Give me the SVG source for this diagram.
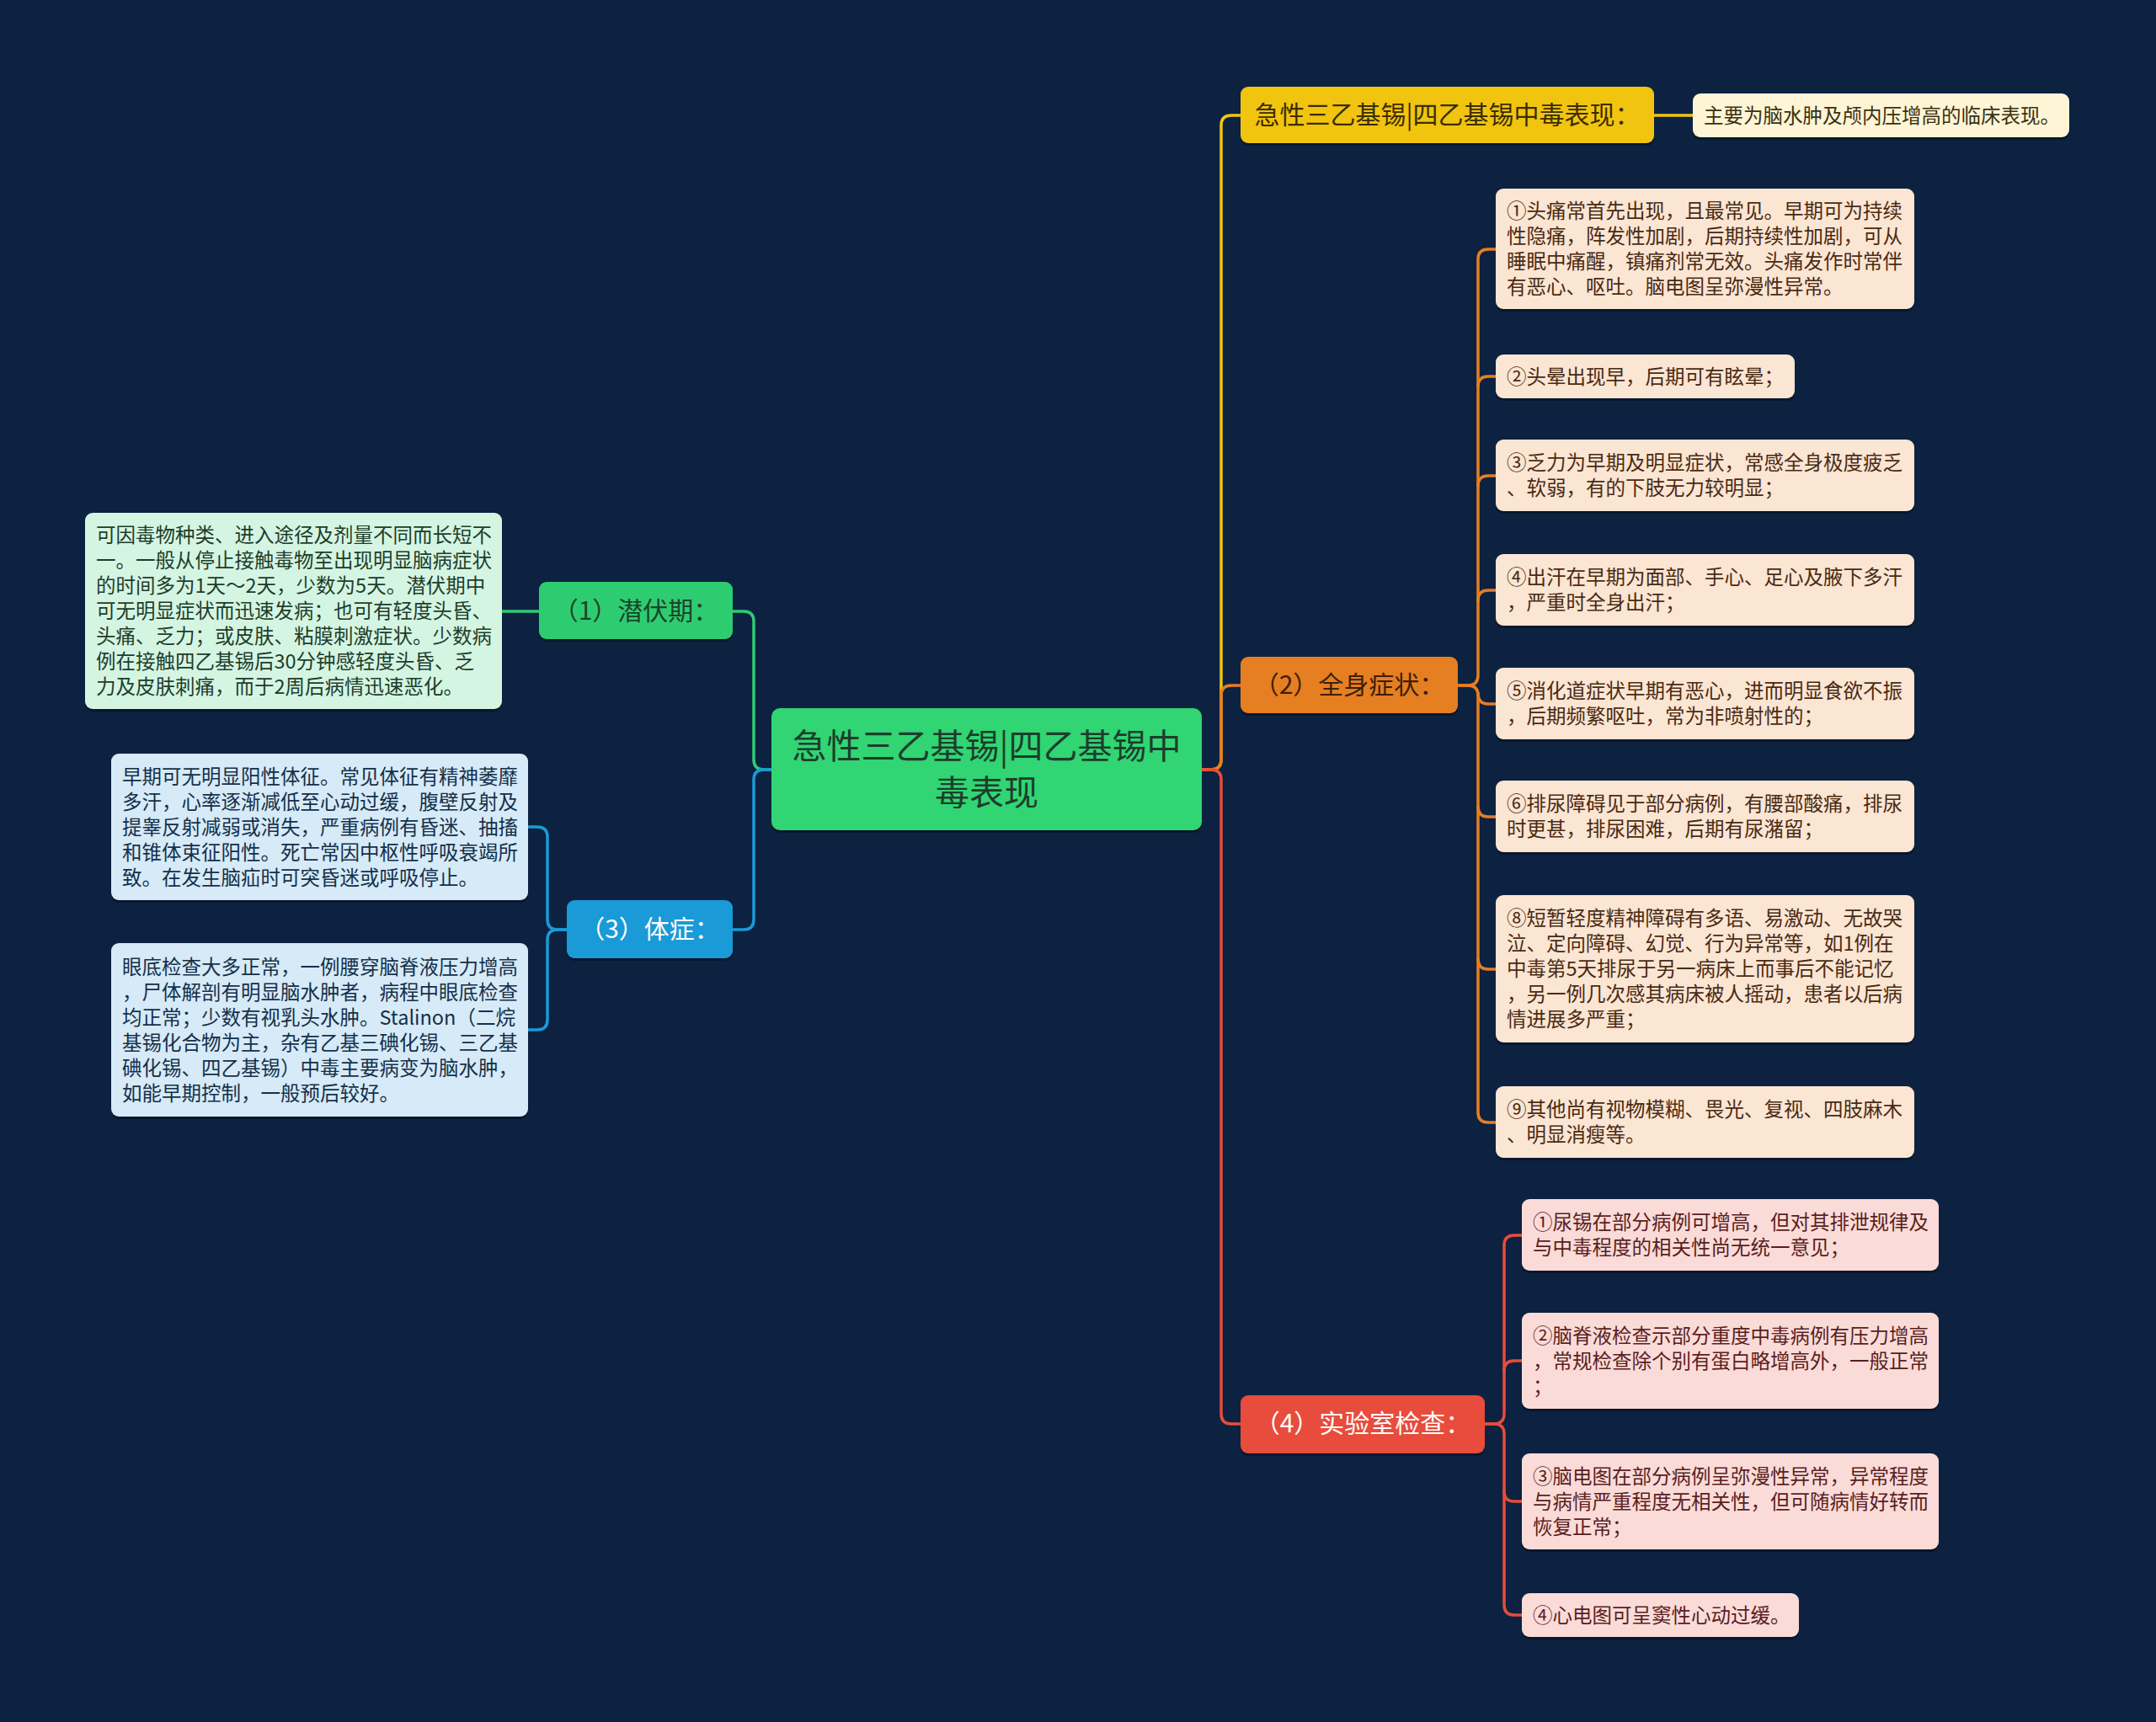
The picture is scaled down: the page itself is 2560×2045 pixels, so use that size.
<svg xmlns="http://www.w3.org/2000/svg" width="2560" height="2045" viewBox="0 0 2560 2045">
<style>
text{font-family:"Microsoft YaHei","Noto Sans CJK SC","Noto Sans",sans-serif;}
.leaf{font-size:23.5px;}
.br{font-size:30px;text-anchor:middle;}
.root{font-size:41px;text-anchor:middle;fill:#1d3d2c;}
.sh{fill:#000;opacity:0.3;}
.c{fill:none;stroke-width:3.5;stroke-linecap:round;}
</style>
<rect x="0" y="0" width="2560" height="2045" fill="#0c2240"/>
<g id="connectors">
<path class="c" stroke="#f1c40f" d="M1427 914 H1438 Q1450 914 1450 902 V149 Q1450 137 1462 137 H1473"/>
<path class="c" stroke="#f1c40f" d="M1964 137 H2010"/>
<path class="c" stroke="#e67e22" d="M1427 914 H1438 Q1450 914 1450 902 V826 Q1450 814 1462 814 H1473"/>
<path class="c" stroke="#e74c3c" d="M1427 914 H1438 Q1450 914 1450 926 V1679 Q1450 1691 1462 1691 H1473"/>
<path class="c" stroke="#2ecc71" d="M916 914 H907 Q895 914 895 902 V738 Q895 726 883 726 H870"/>
<path class="c" stroke="#2ecc71" d="M640 726 H596"/>
<path class="c" stroke="#1a9ad6" d="M916 914 H907 Q895 914 895 926 V1092 Q895 1104 883 1104 H870"/>
<path class="c" stroke="#1a9ad6" d="M673 1104 H662 Q650 1104 650 1092 V994 Q650 982 638 982 H627"/>
<path class="c" stroke="#1a9ad6" d="M673 1104 H662 Q650 1104 650 1116 V1211 Q650 1223 638 1223 H627"/>
<g stroke="#e67e22">
<path class="c" d="M1731 814 H1743 Q1755 814 1755 802 V308 Q1755 296 1767 296 H1776"/>
<path class="c" d="M1755 459 Q1755 447 1767 447 H1776"/>
<path class="c" d="M1755 577 Q1755 565 1767 565 H1776"/>
<path class="c" d="M1755 713 Q1755 701 1767 701 H1776"/>
<path class="c" d="M1755 823 Q1755 836 1767 836 H1776"/>
<path class="c" d="M1731 814 H1743 Q1755 814 1755 826 V1321 Q1755 1333 1767 1333 H1776"/>
<path class="c" d="M1755 958 Q1755 970 1767 970 H1776"/>
<path class="c" d="M1755 1139 Q1755 1151 1767 1151 H1776"/>
</g>
<g stroke="#e74c3c">
<path class="c" d="M1763 1691 H1774 Q1786 1691 1786 1679 V1479 Q1786 1467 1798 1467 H1807"/>
<path class="c" d="M1786 1628 Q1786 1616 1798 1616 H1807"/>
<path class="c" d="M1763 1691 H1774 Q1786 1691 1786 1703 V1906 Q1786 1918 1798 1918 H1807"/>
<path class="c" d="M1786 1771 Q1786 1783 1798 1783 H1807"/>
</g>
</g>
<g id="root">
<rect class="sh" x="916" y="844" width="511" height="145" rx="10"/>
<rect x="916" y="841" width="511" height="145" rx="10" fill="#31d573"/>
<text class="root"><tspan x="1171.5" y="901">急性三乙基锡|四乙基锡中</tspan><tspan x="1171.5" y="956">毒表现</tspan></text>
</g>
<g id="b1">
<rect class="sh" x="1473" y="106" width="491" height="67" rx="9"/>
<rect x="1473" y="103" width="491" height="67" rx="9" fill="#f1c40f"/>
<text class="br" x="1718.5" y="147" fill="#3b2d00">急性三乙基锡|四乙基锡中毒表现：</text>
</g>
<g id="b1-1">
<rect class="sh" x="2010" y="114" width="447" height="52" rx="9"/>
<rect x="2010" y="111" width="447" height="52" rx="9" fill="#fdf5d6"/>
<text class="leaf" x="2023" y="145.5" fill="#3b3010">主要为脑水肿及颅内压增高的临床表现。</text>
</g>
<g id="b2">
<rect class="sh" x="1473" y="783" width="258" height="67" rx="9"/>
<rect x="1473" y="780" width="258" height="67" rx="9" fill="#e67e22"/>
<text class="br" x="1602" y="824" fill="#3d1f05">（2）全身症状：</text>
</g>
<g fill="#4a2a12">
<g id="b2-1">
<rect class="sh" x="1776" y="227" width="497" height="143" rx="9"/>
<rect x="1776" y="224" width="497" height="143" rx="9" fill="#fbe5d3"/>
<text class="leaf" x="1789" y="259">①头痛常首先出现，且最常见。早期可为持续</text>
<text class="leaf" x="1789" y="289">性隐痛，阵发性加剧，后期持续性加剧，可从</text>
<text class="leaf" x="1789" y="319">睡眠中痛醒，镇痛剂常无效。头痛发作时常伴</text>
<text class="leaf" x="1789" y="349">有恶心、呕吐。脑电图呈弥漫性异常。</text>
</g>
<g id="b2-2">
<rect class="sh" x="1776" y="424" width="355" height="52" rx="9"/>
<rect x="1776" y="421" width="355" height="52" rx="9" fill="#fbe5d3"/>
<text class="leaf" x="1789" y="455.5">②头晕出现早，后期可有眩晕；</text>
</g>
<g id="b2-3">
<rect class="sh" x="1776" y="525" width="497" height="85" rx="9"/>
<rect x="1776" y="522" width="497" height="85" rx="9" fill="#fbe5d3"/>
<text class="leaf" x="1789" y="558">③乏力为早期及明显症状，常感全身极度疲乏</text>
<text class="leaf" x="1789" y="588">、软弱，有的下肢无力较明显；</text>
</g>
<g id="b2-4">
<rect class="sh" x="1776" y="661" width="497" height="85" rx="9"/>
<rect x="1776" y="658" width="497" height="85" rx="9" fill="#fbe5d3"/>
<text class="leaf" x="1789" y="694">④出汗在早期为面部、手心、足心及腋下多汗</text>
<text class="leaf" x="1789" y="724">，严重时全身出汗；</text>
</g>
<g id="b2-5">
<rect class="sh" x="1776" y="796" width="497" height="85" rx="9"/>
<rect x="1776" y="793" width="497" height="85" rx="9" fill="#fbe5d3"/>
<text class="leaf" x="1789" y="829">⑤消化道症状早期有恶心，进而明显食欲不振</text>
<text class="leaf" x="1789" y="859">，后期频繁呕吐，常为非喷射性的；</text>
</g>
<g id="b2-6">
<rect class="sh" x="1776" y="930" width="497" height="85" rx="9"/>
<rect x="1776" y="927" width="497" height="85" rx="9" fill="#fbe5d3"/>
<text class="leaf" x="1789" y="963">⑥排尿障碍见于部分病例，有腰部酸痛，排尿</text>
<text class="leaf" x="1789" y="993">时更甚，排尿困难，后期有尿潴留；</text>
</g>
<g id="b2-8">
<rect class="sh" x="1776" y="1066" width="497" height="175" rx="9"/>
<rect x="1776" y="1063" width="497" height="175" rx="9" fill="#fbe5d3"/>
<text class="leaf" x="1789" y="1099">⑧短暂轻度精神障碍有多语、易激动、无故哭</text>
<text class="leaf" x="1789" y="1129">泣、定向障碍、幻觉、行为异常等，如1例在</text>
<text class="leaf" x="1789" y="1159">中毒第5天排尿于另一病床上而事后不能记忆</text>
<text class="leaf" x="1789" y="1189">，另一例几次感其病床被人摇动，患者以后病</text>
<text class="leaf" x="1789" y="1219">情进展多严重；</text>
</g>
<g id="b2-9">
<rect class="sh" x="1776" y="1293" width="497" height="85" rx="9"/>
<rect x="1776" y="1290" width="497" height="85" rx="9" fill="#fbe5d3"/>
<text class="leaf" x="1789" y="1326">⑨其他尚有视物模糊、畏光、复视、四肢麻木</text>
<text class="leaf" x="1789" y="1356">、明显消瘦等。</text>
</g>
</g>
<g id="b4">
<rect class="sh" x="1473" y="1660" width="290" height="69" rx="9"/>
<rect x="1473" y="1657" width="290" height="69" rx="9" fill="#e74c3c"/>
<text class="br" x="1618" y="1701" fill="#ffffff">（4）实验室检查：</text>
</g>
<g fill="#5a1e1e">
<g id="b4-1">
<rect class="sh" x="1807" y="1427" width="495" height="85" rx="9"/>
<rect x="1807" y="1424" width="495" height="85" rx="9" fill="#fadbd8"/>
<text class="leaf" x="1820" y="1460">①尿锡在部分病例可增高，但对其排泄规律及</text>
<text class="leaf" x="1820" y="1490">与中毒程度的相关性尚无统一意见；</text>
</g>
<g id="b4-2">
<rect class="sh" x="1807" y="1562" width="495" height="114" rx="9"/>
<rect x="1807" y="1559" width="495" height="114" rx="9" fill="#fadbd8"/>
<text class="leaf" x="1820" y="1594.5">②脑脊液检查示部分重度中毒病例有压力增高</text>
<text class="leaf" x="1820" y="1624.5">，常规检查除个别有蛋白略增高外，一般正常</text>
<text class="leaf" x="1820" y="1654.5">；</text>
</g>
<g id="b4-3">
<rect class="sh" x="1807" y="1729" width="495" height="114" rx="9"/>
<rect x="1807" y="1726" width="495" height="114" rx="9" fill="#fadbd8"/>
<text class="leaf" x="1820" y="1761.5">③脑电图在部分病例呈弥漫性异常，异常程度</text>
<text class="leaf" x="1820" y="1791.5">与病情严重程度无相关性，但可随病情好转而</text>
<text class="leaf" x="1820" y="1821.5">恢复正常；</text>
</g>
<g id="b4-4">
<rect class="sh" x="1807" y="1895" width="329" height="52" rx="9"/>
<rect x="1807" y="1892" width="329" height="52" rx="9" fill="#fadbd8"/>
<text class="leaf" x="1820" y="1926.5">④心电图可呈窦性心动过缓。</text>
</g>
</g>
<g id="b3l">
<rect class="sh" x="640" y="694" width="230" height="68" rx="9"/>
<rect x="640" y="691" width="230" height="68" rx="9" fill="#2ecc71"/>
<text class="br" x="755" y="736" fill="#1a4428">（1）潜伏期：</text>
</g>
<g id="b3l-1" fill="#1d3d2a">
<rect class="sh" x="101" y="612" width="495" height="233" rx="9"/>
<rect x="101" y="609" width="495" height="233" rx="9" fill="#d5f5e3"/>
<text class="leaf" x="114" y="644">可因毒物种类、进入途径及剂量不同而长短不</text>
<text class="leaf" x="114" y="674">一。一般从停止接触毒物至出现明显脑病症状</text>
<text class="leaf" x="114" y="704">的时间多为1天～2天，少数为5天。潜伏期中</text>
<text class="leaf" x="114" y="734">可无明显症状而迅速发病；也可有轻度头昏、</text>
<text class="leaf" x="114" y="764">头痛、乏力；或皮肤、粘膜刺激症状。少数病</text>
<text class="leaf" x="114" y="794">例在接触四乙基锡后30分钟感轻度头昏、乏</text>
<text class="leaf" x="114" y="824">力及皮肤刺痛，而于2周后病情迅速恶化。</text>
</g>
<g id="b3">
<rect class="sh" x="673" y="1072" width="197" height="69" rx="9"/>
<rect x="673" y="1069" width="197" height="69" rx="9" fill="#1a9ad6"/>
<text class="br" x="771.5" y="1114" fill="#ffffff">（3）体症：</text>
</g>
<g fill="#14304a">
<g id="b3-1">
<rect class="sh" x="132" y="898" width="495" height="174" rx="9"/>
<rect x="132" y="895" width="495" height="174" rx="9" fill="#d6eaf8"/>
<text class="leaf" x="145" y="930.5">早期可无明显阳性体征。常见体征有精神萎靡</text>
<text class="leaf" x="145" y="960.5">多汗，心率逐渐减低至心动过缓，腹壁反射及</text>
<text class="leaf" x="145" y="990.5">提睾反射减弱或消失，严重病例有昏迷、抽搐</text>
<text class="leaf" x="145" y="1020.5">和锥体束征阳性。死亡常因中枢性呼吸衰竭所</text>
<text class="leaf" x="145" y="1050.5">致。在发生脑疝时可突昏迷或呼吸停止。</text>
</g>
<g id="b3-2">
<rect class="sh" x="132" y="1123" width="495" height="206" rx="9"/>
<rect x="132" y="1120" width="495" height="206" rx="9" fill="#d6eaf8"/>
<text class="leaf" x="145" y="1156.5">眼底检查大多正常，一例腰穿脑脊液压力增高</text>
<text class="leaf" x="145" y="1186.5">，尸体解剖有明显脑水肿者，病程中眼底检查</text>
<text class="leaf" x="145" y="1216.5">均正常；少数有视乳头水肿。Stalinon（二烷</text>
<text class="leaf" x="145" y="1246.5">基锡化合物为主，杂有乙基三碘化锡、三乙基</text>
<text class="leaf" x="145" y="1276.5">碘化锡、四乙基锡）中毒主要病变为脑水肿，</text>
<text class="leaf" x="145" y="1306.5">如能早期控制，一般预后较好。</text>
</g>
</g>
</svg>
